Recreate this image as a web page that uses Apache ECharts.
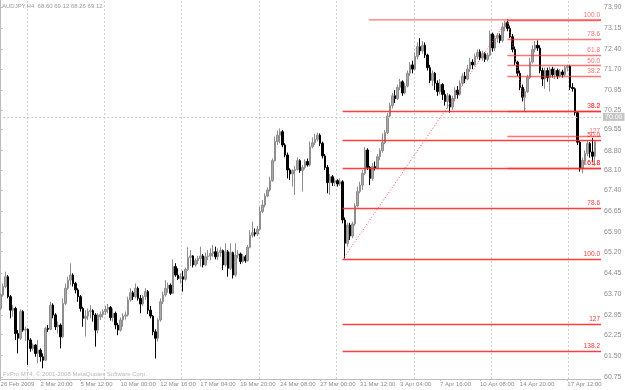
<!DOCTYPE html>
<html><head><meta charset="utf-8">
<script src="https://cdn.jsdelivr.net/npm/echarts@6/dist/echarts.min.js"></script>
<style>html,body{margin:0;padding:0;background:#fff}#c{width:625px;height:390px}</style>
</head><body><div id="c"></div>
<script>
const symbolName = 'AUDJPY,H4';
const copyrightText = 'FxPro MT4, \u00a9 2001-2008 MetaQuotes Software Corp.';

const opens = [63.18,63.66,63.96,64.31,63.60,63.12,63.18,62.29,62.12,63.07,
62.41,62.44,62.06,61.76,61.88,61.58,61.70,61.46,61.34,62.47,
62.44,63.30,62.95,62.53,62.59,62.17,63.36,63.90,64.19,64.37,
64.07,63.84,63.60,63.18,62.83,62.91,63.07,63.10,62.95,62.41,
62.88,62.97,63.07,63.15,63.22,62.86,63.01,62.59,62.41,62.77,
62.91,62.95,63.48,63.74,63.60,63.90,63.54,63.34,63.60,63.78,
63.12,62.91,62.35,62.12,62.77,63.42,63.66,63.90,64.01,63.72,
64.67,64.37,64.25,64.31,64.22,64.57,65.00,65.05,64.73,64.88,
64.96,65.05,64.73,65.02,65.05,65.14,65.20,65.02,65.17,65.24,
64.73,65.20,64.61,65.17,64.37,65.08,65.12,64.85,65.02,64.88,
65.36,65.79,65.88,65.83,66.00,66.63,66.86,67.18,67.40,67.73,
68.44,69.12,69.35,69.47,69.00,68.64,68.11,67.97,68.09,68.13,
68.44,68.09,68.20,68.41,68.29,68.94,69.08,69.20,69.35,69.06,
68.61,68.20,67.66,67.87,67.66,67.73,67.61,67.69,66.33,65.50,
66.15,65.76,66.19,66.83,67.34,67.57,67.99,68.82,68.20,67.81,
68.23,68.17,68.58,68.80,69.08,69.44,70.03,70.40,70.75,70.65,
71.05,71.25,70.85,71.10,71.55,71.85,71.70,72.15,72.50,72.35,
72.55,72.20,71.75,71.30,71.55,71.20,70.90,71.15,70.80,70.55,
70.75,70.35,70.65,70.95,70.80,71.20,71.45,71.35,71.70,71.95,
71.85,72.15,72.32,72.10,72.25,72.05,72.20,72.95,72.45,72.80,
72.90,72.72,73.20,73.35,73.15,72.85,72.40,71.95,71.55,71.05,
70.70,70.90,71.40,71.95,72.40,72.55,72.45,71.65,71.35,71.65,
71.40,71.70,71.50,71.65,71.45,71.60,71.50,71.75,71.80,71.05,
71.00,70.15,69.10,68.15,68.45,68.70,69.05,68.75,68.60];

const closes = [63.66,63.96,64.31,63.60,63.12,63.18,62.29,62.12,63.07,62.41,
62.44,62.06,61.76,61.88,61.58,61.70,61.46,61.34,62.47,62.44,
63.30,62.95,62.53,62.59,62.17,63.36,63.90,64.19,64.37,64.07,
63.84,63.60,63.18,62.83,62.91,63.07,63.10,62.95,62.41,62.95,
62.97,63.07,63.15,63.22,62.86,63.01,62.59,62.41,62.77,62.91,
62.95,63.48,63.74,63.60,63.90,63.54,63.34,63.60,63.78,63.12,
62.91,62.35,62.12,62.77,63.42,63.66,63.90,64.01,63.72,64.67,
64.37,64.25,64.31,64.22,64.57,65.00,65.05,64.73,64.88,64.96,
65.05,64.73,65.02,65.05,65.14,65.20,65.02,65.17,65.24,64.73,
65.20,64.61,65.17,64.37,65.08,65.12,64.85,65.02,64.88,65.36,
65.79,65.88,65.83,66.00,66.63,66.86,67.18,67.40,67.73,68.44,
69.12,69.35,69.47,69.00,68.64,68.11,67.97,68.09,68.13,68.44,
68.09,68.20,68.41,68.29,68.94,69.08,69.20,69.35,69.06,68.61,
68.20,67.66,67.87,67.66,67.73,67.61,67.69,66.33,65.50,66.15,
65.76,66.19,66.83,67.34,67.57,67.99,68.82,68.20,67.81,68.23,
68.17,68.58,68.80,69.08,69.44,70.03,70.40,70.75,70.65,71.05,
71.25,70.85,71.10,71.55,71.85,71.70,72.15,72.50,72.35,72.55,
72.20,71.75,71.30,71.55,71.20,70.90,71.15,70.80,70.55,70.75,
70.35,70.65,70.95,70.80,71.20,71.45,71.35,71.70,71.95,71.85,
72.15,72.30,72.10,72.25,72.05,72.20,72.95,72.45,72.80,72.90,
72.72,73.20,73.35,73.15,72.85,72.40,71.95,71.55,71.05,70.70,
70.90,71.40,71.95,72.40,72.55,72.45,71.65,71.35,71.65,71.40,
71.70,71.50,71.65,71.45,71.60,71.50,71.75,71.80,71.05,71.00,
70.15,69.10,68.15,68.45,68.70,69.05,68.75,68.60,69.12];

const lows = [63.12,63.60,63.90,63.54,62.83,62.89,62.06,61.58,62.06,62.35,
62.03,61.17,61.64,61.68,61.46,61.23,61.29,61.05,61.32,62.35,
62.41,62.83,62.41,62.29,61.76,62.12,63.30,63.84,64.01,63.96,
63.72,63.42,63.07,62.53,62.18,62.77,62.83,62.71,61.82,62.29,
62.77,62.86,62.95,63.01,62.75,62.71,62.44,62.23,62.35,62.53,
62.79,62.89,63.42,63.48,63.54,63.46,63.01,63.27,63.48,62.98,
62.83,62.23,61.40,62.00,62.71,63.34,63.60,63.74,63.66,63.69,
64.31,64.19,64.07,63.78,64.17,64.52,64.69,64.64,64.67,64.76,
64.67,64.64,64.69,64.90,64.90,65.02,64.93,64.90,65.02,64.55,
64.67,64.31,64.55,64.25,64.31,64.96,64.76,64.79,64.81,64.85,
65.32,65.71,65.74,65.76,65.95,66.57,66.78,67.14,67.34,67.69,
68.41,69.00,69.06,68.92,68.56,67.81,67.75,67.52,67.22,68.09,
68.01,67.34,68.13,68.23,68.23,68.88,69.00,69.12,68.96,68.52,
68.11,67.28,67.22,67.54,67.54,67.52,67.54,66.21,64.96,65.38,
65.62,65.68,66.12,66.78,67.28,67.40,67.93,68.11,67.57,67.73,
68.09,68.13,68.46,68.73,69.03,69.39,69.98,70.30,70.50,70.60,
70.95,70.75,70.80,71.05,71.45,71.55,71.65,72.05,72.20,72.25,
72.10,71.65,71.20,71.10,70.95,70.75,70.80,70.60,70.40,70.30,
70.15,70.25,70.55,70.65,70.75,71.10,71.20,71.30,71.60,71.70,
71.80,72.05,72.02,72.00,71.95,71.98,72.15,72.32,72.35,72.65,
72.62,72.65,73.05,73.05,72.80,72.30,71.85,71.45,70.95,70.55,
70.19,70.85,71.35,71.90,72.30,72.35,71.55,71.10,71.00,71.25,
70.90,71.40,71.35,71.35,71.40,71.40,71.45,71.62,70.95,70.90,
70.05,69.00,68.05,67.99,68.30,68.60,68.55,68.40,68.26];

const highs = [63.72,64.07,64.49,64.37,63.66,63.30,63.24,62.41,63.15,63.12,
62.53,62.47,62.12,61.94,61.91,62.06,61.76,61.58,62.53,62.59,
63.42,63.36,63.01,62.71,62.65,63.54,64.07,64.31,64.79,64.43,
64.13,63.90,63.66,63.24,63.12,63.18,63.30,63.15,63.01,63.01,
63.07,63.15,63.27,63.34,63.27,63.18,63.07,62.67,62.86,63.01,
63.07,63.60,63.90,63.81,64.07,63.96,63.66,63.66,63.90,63.84,
63.27,62.95,62.44,62.83,63.54,63.78,64.19,64.10,64.07,64.93,
64.79,64.61,64.43,64.52,64.64,65.36,65.26,65.08,64.96,65.05,
65.38,65.12,65.17,65.26,65.32,65.44,65.38,65.32,65.36,65.28,
65.50,65.26,65.50,65.20,65.50,65.26,65.17,65.12,65.08,65.44,
65.97,66.27,66.03,66.12,66.80,67.04,67.28,67.49,67.87,68.52,
69.30,69.51,69.59,69.53,69.06,68.73,68.17,68.13,68.25,68.56,
68.49,68.29,68.49,68.52,69.12,69.27,69.39,69.44,69.41,69.12,
68.68,68.29,67.97,67.93,67.81,67.78,67.81,67.75,66.42,66.23,
66.23,66.27,66.92,67.52,67.69,68.11,68.92,68.88,68.25,68.35,
68.41,68.68,68.88,69.41,69.53,70.13,70.50,70.85,70.95,71.15,
71.35,71.30,71.20,71.65,71.95,72.00,72.30,72.65,72.80,72.70,
72.65,72.25,71.85,71.65,71.60,71.30,71.35,71.20,70.95,70.85,
70.80,70.75,71.05,71.10,71.30,71.55,71.60,71.85,72.10,72.05,
72.25,72.40,72.40,72.35,72.30,72.28,73.07,73.00,72.90,72.98,
72.97,73.35,73.42,73.47,73.25,72.95,72.50,72.00,71.65,71.15,
71.00,71.50,72.10,72.55,72.70,72.72,72.55,71.75,71.75,71.75,
71.78,71.78,71.75,71.72,71.70,71.68,71.82,71.85,71.85,71.20,
71.05,70.20,69.15,68.55,68.80,69.15,69.10,69.25,69.12];

const barSlots = 241;
const xTickBars = [0,16,32,48,64,80,96,112,128,144,160,176,192,208,227];
const xTickLabels = ['26 Feb 2009','2 Mar 20:00','5 Mar 12:00','10 Mar 00:00','12 Mar 16:00','17 Mar 04:00',
  '19 Mar 20:00','24 Mar 08:00','27 Mar 00:00','31 Mar 12:00','3 Apr 04:00','7 Apr 16:00',
  '10 Apr 08:00','14 Apr 20:00','17 Apr 12:00'];
const yTickValues = [60.75,61.50,62.25,62.95,63.70,64.45,65.20,65.90,66.65,67.40,68.10,68.80,
  69.55,70.25,70.95,71.70,72.40,73.15,73.90];
const yMin = 60.67, yMax = 74.16;
const gridBars = [10.5,41.5,72.5,103.5,134.5,165.5,196.5,227.5];
const hLinePrice = 70.00;

// Fibonacci 1: low -> high
const fib1Start = [137, 64.92];
const fib1End = [203, 73.45];
const fib1Levels = [38.2, 50, 61.8, 78.6, 100, 127, 138.2];
const fib1Texts = ['38.2','50.0','61.8','78.6','100.0','127','138.2'];
// Fibonacci 2: high -> low
const fib2Start = [203, 73.45];
const fib2End = [210.5, 70.19];
const fib2Levels = [100, 78.6, 61.8, 50, 38.2, 0, -27, -61.8];
const fib2Texts = ['100.0','78.6','61.8','50.0','38.2','0.0','127','161.8'];
// horizontal line at the swing high
const topLine = {fromBar: 147.5, price: 73.45};

const chart = echarts.init(document.getElementById('c'));
const last = opens.length - 1;
const candleData = opens.map((o, i) => [o, closes[i], lows[i], highs[i]]);
const categories = Array.from({length: barSlots}, (_, i) => String(i));
const rightEdge = barSlots - 0.5;
const f2 = v => v.toFixed(2);
const font = 'Liberation Sans, Arial, sans-serif';
const RED = '#ff2a2a';
const fibPrice = (s, e, lvl) => e[1] + (s[1] - e[1]) * lvl / 100;
const fib1Style = {color: RED, type: 'solid', width: 1.4, opacity: 0.9};
const fib2Style = {color: RED, type: 'solid', width: 1.3, opacity: 0.65};
function fibLines(s, e, levels, texts, style) {
  return levels.map((lvl, k) => {
    const p = fibPrice(s, e, lvl);
    return [{coord: [s[0], p], lineStyle: style, label: {formatter: texts[k]}}, {coord: [rightEdge, p]}];
  });
}
const fibLabel = {show: true, position: 'insideEndTop', distance: [1, 1.5], color: '#ff2020',
  fontSize: 6.5, fontFamily: font};
const tickFn = (idx) => xTickBars.indexOf(idx) >= 0;

chart.setOption({
  animation: false,
  backgroundColor: '#ffffff',
  title: [
    {text: `${symbolName}  ${f2(opens[last])} ${f2(highs[last])} ${f2(lows[last])} ${f2(closes[last])}`,
     left: 2, top: 3, padding: 0,
     textStyle: {fontSize: 6, fontWeight: 'normal', color: '#9a9a9a', fontFamily: font}},
    {text: copyrightText, left: 3, top: 371, padding: 0,
     textStyle: {fontSize: 6, fontWeight: 'normal', color: '#b8b8b8', fontFamily: font}}
  ],
  grid: {left: -0.65, right: 24, top: 0, bottom: 11, outerBoundsMode: 'none', containLabel: false},
  xAxis: [
    {type: 'category', data: categories, boundaryGap: true,
     axisLine: {show: true, lineStyle: {color: '#bdbdbd', width: 1}},
     axisTick: {show: true, interval: tickFn, alignWithLabel: true, length: 2, lineStyle: {color: '#bdbdbd'}},
     axisLabel: {show: true, interval: tickFn, hideOverlap: false, align: 'left', margin: 2,
       fontSize: 6, color: '#8c8c8c', fontFamily: font,
       formatter: (v, idx) => xTickLabels[xTickBars.indexOf(idx)] || ''},
     splitLine: {show: false}},
    {type: 'value', show: false, min: -0.5, max: rightEdge, gridIndex: 0}
  ],
  yAxis: {type: 'value', position: 'right', min: yMin, max: yMax, scale: true,
    axisLine: {show: true, lineStyle: {color: '#bdbdbd', width: 1}},
    axisTick: {show: true, length: 2, customValues: yTickValues, lineStyle: {color: '#bdbdbd'}},
    axisLabel: {show: true, margin: 3, fontSize: 7, color: '#8c8c8c', fontFamily: font,
      customValues: yTickValues, formatter: v => f2(v), hideOverlap: false},
    splitLine: {show: false}},
  series: [
    {type: 'line', xAxisIndex: 1, data: [], silent: true,
     markLine: {silent: true, z: 1, symbol: ['none', 'none'], label: {show: false},
       lineStyle: {color: '#cfcfcf', type: [2, 2], width: 1},
       data: gridBars.map(b => ({xAxis: b}))}},
    {type: 'candlestick', xAxisIndex: 0, z: 2, barWidth: 2, data: candleData,
     itemStyle: {color: '#a8a8a8', color0: '#000000', borderColor: '#8e8e8e', borderColor0: '#000000', borderWidth: 1},
     markLine: {silent: true, symbol: ['none', 'none'],
       data: [
         {yAxis: hLinePrice, lineStyle: {color: '#c4c4c4', type: [2, 2], width: 1},
          label: {show: true, position: 'end', distance: 2, formatter: f2(hLinePrice), color: '#ffffff',
            backgroundColor: '#c4c4c4', padding: [1, 2, 0, 2], fontSize: 7, fontFamily: font}},
         {yAxis: closes[last], lineStyle: {opacity: 0},
          label: {show: true, position: 'end', distance: 2, formatter: f2(closes[last]), color: '#ffffff',
            backgroundColor: '#b4b4b4', padding: [1, 2, 0, 2], fontSize: 7, fontFamily: font}}
       ]}},
    {type: 'line', xAxisIndex: 1, z: 3, silent: true, symbol: 'none',
     data: [[topLine.fromBar, topLine.price], [rightEdge, topLine.price]],
     lineStyle: {color: RED, width: 1.3, opacity: 0.65}},
    {type: 'line', xAxisIndex: 1, z: 3, silent: true, symbol: 'none', data: [fib1Start, fib1End],
     lineStyle: {color: '#ff4a4a', type: [1, 2], width: 1},
     markLine: {silent: true, symbol: ['none', 'none'], label: fibLabel, lineStyle: fib1Style,
       emphasis: {disabled: true},
       data: fibLines(fib1Start, fib1End, fib1Levels, fib1Texts, fib1Style)}},
    {type: 'line', xAxisIndex: 1, z: 3, silent: true, symbol: 'none', data: [fib2Start, fib2End],
     lineStyle: {color: '#ff6a6a', type: [1, 2], width: 1},
     markLine: {silent: true, symbol: ['none', 'none'], label: fibLabel, lineStyle: fib2Style,
       emphasis: {disabled: true},
       data: fibLines(fib2Start, fib2End, fib2Levels, fib2Texts, fib2Style)}}
  ]
});
</script>
</body></html>
